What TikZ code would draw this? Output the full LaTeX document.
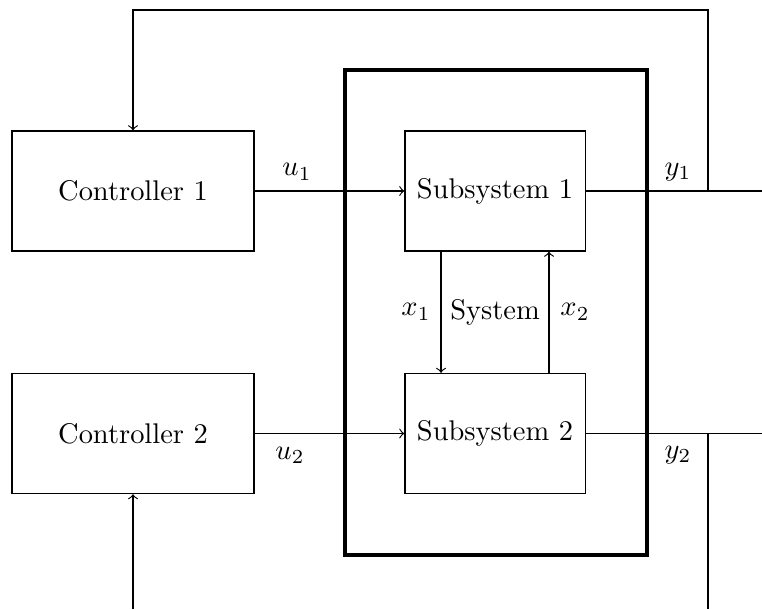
\documentclass[tikz,border=0pt]{standalone}
\begin{document}
\begin{tikzpicture}[x=0.3514pt,y=-0.3514pt,
  blk/.style={draw, line width=0.4pt, minimum height=42.2pt, inner sep=0pt},
  ctrl/.style={blk, minimum width=85pt},
  sub/.style={blk, minimum width=63.3pt},
  lbl/.style={inner sep=0pt},
  conn/.style={line width=0.4pt},
  arr/.style={conn, ->}]
\useasboundingbox (0,0) rectangle (762,609);
\node[draw, line width=1.6pt, minimum width=106pt, minimum height=170.4pt] (sys) at (496,312.5) {};
\node[ctrl] (c1) at (133,191) {Controller 1};
\node[ctrl] (c2) at (133,433.5) {Controller 2};
\node[sub] (s1) at (495,191) {Subsystem 1};
\node[sub] (s2) at (495,433.5) {Subsystem 2};
\node[lbl] (systxt) at (495,312) {System};
\node[lbl] (u1) at (297,172) {$u_1$};
\node[lbl] (u2) at (290,455) {$u_2$};
\node[lbl] (y1) at (678,172) {$y_1$};
\node[lbl] (y2) at (678,455) {$y_2$};
\node[lbl] (x1) at (416,312) {$x_1$};
\node[lbl] (x2) at (575,312) {$x_2$};
\coordinate (o1) at (762,191);
\coordinate (o2) at (762,433.5);
\coordinate (f1) at (708,191);
\coordinate (t1) at (708,10);
\coordinate (t2) at (133,10);
\coordinate (f2) at (708,433.5);
\coordinate (b2) at (708,609);
\coordinate (b1) at (133,609);
\draw[arr] (c1.east) -- (s1.west);
\draw[arr] (c2.east) -- (s2.west);
\draw[conn] (s1.east) -- (o1);
\draw[conn] (s2.east) -- (o2);
\draw[arr] (f1) -- (t1) -- (t2) -- (c1.north);
\draw[conn] (f2) -- (b2);
\draw[arr] (b1) -- (c2.south);
\draw[arr] (s1.south -| 441,0) -- (s2.north -| 441,0);
\draw[arr] (s2.north -| 549,0) -- (s1.south -| 549,0);
\end{tikzpicture}
\end{document}
